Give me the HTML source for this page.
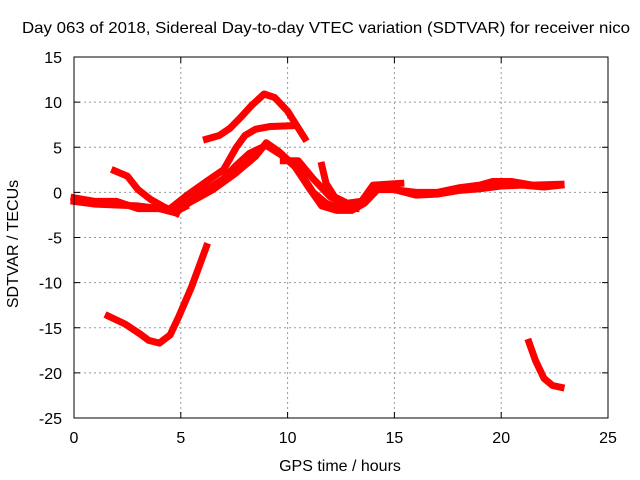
<!DOCTYPE html>
<html><head><meta charset="utf-8"><style>
body{margin:0;background:#fff}
svg{display:block;font-family:"Liberation Sans",sans-serif;font-size:16px}
</style></head><body>
<svg id="chart" width="640" height="480">
<text x="326" y="33" text-anchor="middle" textLength="608" lengthAdjust="spacingAndGlyphs">Day 063 of 2018, Sidereal Day-to-day VTEC variation (SDTVAR) for receiver nico</text>
<text x="340" y="471" text-anchor="middle">GPS time / hours</text>
<text transform="translate(18,244) rotate(-90)" text-anchor="middle">SDTVAR / TECUs</text>
<g id="grid"></g>
<g id="series"></g>
<rect x="74" y="57" width="534" height="361" fill="none" stroke="#000" stroke-width="1"/>
</svg>
<script>
const xTicks=[0,5,10,15,20,25];
const yTicks=[15,10,5,0,-5,-10,-15,-20,-25];
// tracks: x hours, y TECU
const t1x=[0,1,2,3,4,4.7,5.2];
const t1y=[-1,-1.3,-1.4,-1.5,-1.8,-2.2,-1.6];
const t2x=[0,1,2,3,4,4.8];
const t2y=[-0.6,-1,-1,-1.8,-1.8,-2.3];
const t3x=[1.9,2.5,3,3.6,4.2,4.8];
const t3y=[2.4,1.8,0.3,-0.8,-1.6,-2.3];
const t4x=[4.8,5.5,6.5,7.5,8.5,9,9.6,10.3,11,11.6,12.3,13,13.6,14.2,15,16,17,18,19,20,21,22,22.8];
const t4y=[-2,-1,0.3,2,4,5.5,4.5,3,0.5,-1.5,-2,-2,-1.2,0.3,0.3,-0.3,-0.2,0.2,0.4,0.7,0.8,0.6,0.8];
const t5x=[4.5,5.3,6.2,7,7.6,8,8.5,9.2,10.3];
const t5y=[-1.8,-0.3,1.2,2.5,5,6.3,7,7.3,7.4];
const t6x=[5,6,7,7.6,8.2,9,9.8,10.5,11.2,11.8,12.5,13.2];
const t6y=[-1.8,0,1.5,3,4.3,5.2,4,2.5,0,-1.2,-1.8,-1.8];
const t7x=[6.2,6.8,7.3,7.8,8.3,8.9,9.4,10,10.4,10.8];
const t7y=[5.9,6.3,7.1,8.3,9.6,10.9,10.5,9,7.5,6];
const t8x=[9.8,10.5,11.2,12,12.8,13.4,14,15.3];
const t8y=[3.5,3.5,1.5,-0.5,-1.4,-1.2,0.8,1];
const t9x=[11.6,11.8,12.2,12.8,13.4];
const t9y=[3,1,-0.5,-1.2,-1];
const t10x=[15,16,17,18,19,19.6,20.5,21.5,22.8];
const t10y=[0.3,0,0,0.5,0.8,1.2,1.2,0.8,0.9];
const t11x=[1.6,2.4,3.1,3.5,4,4.5,4.9,5.5,6.2];
const t11y=[-13.7,-14.6,-15.7,-16.4,-16.7,-15.8,-13.8,-10.5,-6];
const t12x=[21.3,21.6,22,22.4,22.8];
const t12y=[-16.6,-18.6,-20.6,-21.4,-21.6];
const tracks=[[t1x,t1y],[t2x,t2y],[t3x,t3y],[t4x,t4y],[t5x,t5y],[t6x,t6y],[t7x,t7y],[t8x,t8y],[t9x,t9y],[t10x,t10y],[t11x,t11y],[t12x,t12y]];
const X=v=>74+v*534/25, Y=v=>57+(15-v)*361/40;
const NS='http://www.w3.org/2000/svg';
const g=document.getElementById('grid'), s=document.getElementById('series');
function mk(tag,at,parent){const e=document.createElementNS(NS,tag);for(const k in at)e.setAttribute(k,at[k]);parent.appendChild(e);return e;}
xTicks.forEach(v=>{
 if(v>0&&v<25){const l=mk('line',{x1:X(v),x2:X(v),y1:57,y2:418,stroke:'#999','stroke-dasharray':'2,3'},g);
 
 }
 const t=mk('text',{x:X(v),y:443,'text-anchor':'middle'},g);t.textContent=v;
 
 
 mk('line',{x1:X(v),x2:X(v),y1:418,y2:412,stroke:'#000'},g);
 mk('line',{x1:X(v),x2:X(v),y1:57,y2:63,stroke:'#000'},g);
});
yTicks.forEach(v=>{
 if(v<15&&v>-25){const l=mk('line',{x1:74,x2:608,y1:Y(v),y2:Y(v),stroke:'#999','stroke-dasharray':'2,3'},g);
 
 }
 const t=mk('text',{x:62,y:Y(v)+6,'text-anchor':'end'},g);t.textContent=v;
 
 
 mk('line',{x1:74,x2:80,y1:Y(v),y2:Y(v),stroke:'#000'},g);
 mk('line',{x1:608,x2:602,y1:Y(v),y2:Y(v),stroke:'#000'},g);
});
tracks.forEach((tr,i)=>{
 const pts=tr[0].map((x,j)=>X(x)+','+Y(tr[1][j])).join(' ');
 const p=mk('polyline',{points:pts,fill:'none',stroke:'#f00','stroke-width':7,'stroke-linejoin':'round','stroke-linecap':'square'},s);
 
 
});
</script>
</body></html>
